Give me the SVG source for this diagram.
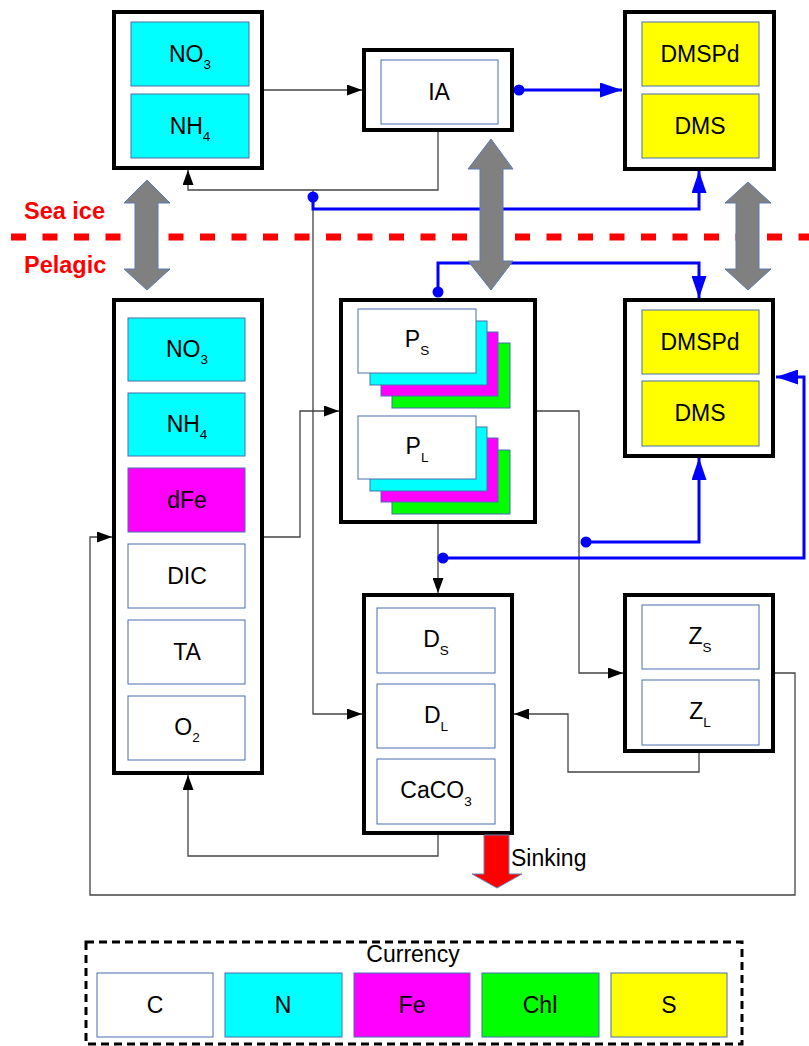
<svg xmlns="http://www.w3.org/2000/svg" width="809" height="1046" viewBox="0 0 809 1046">
<style>
.outer{fill:#fff;stroke:#000;stroke-width:4}
.inner{stroke:#4a6fb0;stroke-width:1}
.w{fill:#fff}.cy{fill:#00ffff}.mg{fill:#ff00ff}.gr{fill:#00ff00}.ye{fill:#ffff00}
text{font-family:"Liberation Sans",Arial,sans-serif;font-size:23px;fill:#000;text-anchor:middle}
.sub{font-size:13.5px}
.red{fill:#ff0000;font-weight:bold;text-anchor:start;font-size:23.5px}
.con{fill:none;stroke:#444;stroke-width:1.3}
.blue{fill:none;stroke:#0000ff;stroke-width:3}
.dot{fill:#0000ff}
.dbl{fill:#808080;stroke:#5a7ab5;stroke-width:1}
</style>
<defs>
<marker id="ah" markerUnits="userSpaceOnUse" markerWidth="15" markerHeight="11" refX="15" refY="5.5" orient="auto"><path d="M0,0 L15,5.5 L0,11 z" fill="#000"/></marker>
<marker id="bh" markerUnits="userSpaceOnUse" markerWidth="22" markerHeight="15" refX="22" refY="7.5" orient="auto"><path d="M0,0 L22,7.5 L0,15 z" fill="#0000ff"/></marker>
</defs>

<!-- red separator -->
<line x1="11" y1="237" x2="809" y2="237" stroke="#ff0000" stroke-width="7" stroke-dasharray="15 16.5"/>
<text class="red" x="24" y="219">Sea ice</text>
<text class="red" x="24" y="273">Pelagic</text>

<g id="connectors">
<polyline class="con" points="264,90 362,90" marker-end="url(#ah)"/>
<polyline class="con" points="438,132 438,190 188,190 188,170" marker-end="url(#ah)"/>
<polyline class="con" points="313,190 313,714 362,714" marker-end="url(#ah)"/>
<polyline class="con" points="264,537 300,537 300,411 339,411" marker-end="url(#ah)"/>
<polyline class="con" points="537,411 579,411 579,673 623,673" marker-end="url(#ah)"/>
<polyline class="con" points="438,524 438,593" marker-end="url(#ah)"/>
<polyline class="con" points="699,753 699,772 568,772 568,714 514,714" marker-end="url(#ah)"/>
<polyline class="con" points="775,673 795,673 795,895 90,895 90,537 112,537" marker-end="url(#ah)"/>
<polyline class="con" points="438,835 438,856 188,856 188,775" marker-end="url(#ah)"/>

<polyline class="blue" points="313,197 313,209 699,209 699,171" marker-end="url(#bh)"/>
<polyline class="blue" points="519,90 622,90" marker-end="url(#bh)"/>
<polyline class="blue" points="438,292 438,263 699,263 699,298" marker-end="url(#bh)"/>
<polyline class="blue" points="443,558 804,558 804,377 776,377" marker-end="url(#bh)"/>
<polyline class="blue" points="586,542 699,542 699,458" marker-end="url(#bh)"/>
<circle class="dot" cx="313" cy="197" r="5.5"/>
<circle class="dot" cx="519" cy="90" r="5.5"/>
<circle class="dot" cx="438" cy="292" r="5.5"/>
<circle class="dot" cx="443" cy="558" r="5.5"/>
<circle class="dot" cx="586" cy="542" r="5.5"/>
</g>

<g id="exchange-arrows">
<polygon class="dbl" points="147,180 170,203 158,203 158,269 170,269 147,290 124,269 135,269 135,203 124,203"/>
<polygon class="dbl" points="491,139 513,169 503,169 503,261 513,261 491,290 468,261 480,261 480,169 468,169"/>
<polygon class="dbl" points="748,182 771,203 759,203 759,269 771,269 748,290 725,269 736,269 736,203 725,203"/>
</g>

<g id="ice-nutrients">
<rect class="outer" x="114" y="12" width="148" height="156"/>
<rect class="inner cy" x="131" y="22" width="118" height="64"/>
<rect class="inner cy" x="131" y="94" width="118" height="64"/>
<text x="190" y="62">NO<tspan class="sub" dy="7">3</tspan></text>
<text x="190" y="134">NH<tspan class="sub" dy="7">4</tspan></text>
</g>

<g id="ice-algae">
<rect class="outer" x="364" y="50" width="148" height="80"/>
<rect class="inner w" x="381" y="60" width="117" height="64"/>
<text x="439" y="100">IA</text>
</g>

<g id="ice-dms">
<rect class="outer" x="625" y="12" width="149" height="157"/>
<rect class="inner ye" x="642" y="22" width="117" height="64"/>
<rect class="inner ye" x="642" y="94" width="117" height="64"/>
<text x="700" y="62">DMSPd</text>
<text x="700" y="134">DMS</text>
</g>

<g id="pelagic-nutrients">
<rect class="outer" x="114" y="300" width="148" height="473"/>
<rect class="inner cy" x="128" y="318" width="117" height="63"/>
<rect class="inner cy" x="128" y="393" width="117" height="63"/>
<rect class="inner mg" x="128" y="468" width="117" height="64"/>
<rect class="inner w" x="128" y="544" width="117" height="64"/>
<rect class="inner w" x="128" y="620" width="117" height="64"/>
<rect class="inner w" x="128" y="696" width="117" height="64"/>
<text x="187" y="357">NO<tspan class="sub" dy="7">3</tspan></text>
<text x="187" y="432">NH<tspan class="sub" dy="7">4</tspan></text>
<text x="187" y="508">dFe</text>
<text x="187" y="584">DIC</text>
<text x="187" y="660">TA</text>
<text x="187" y="735">O<tspan class="sub" dy="7">2</tspan></text>
</g>

<g id="phytoplankton">
<rect class="outer" x="341" y="300" width="194" height="222"/>
<rect class="inner gr" x="392" y="343" width="118" height="65"/>
<rect class="inner mg" x="381" y="332" width="117" height="64"/>
<rect class="inner cy" x="370" y="321" width="117" height="64"/>
<rect class="inner w" x="358" y="309" width="118" height="64"/>
<text x="417" y="347">P<tspan class="sub" dy="8">S</tspan></text>
<rect class="inner gr" x="392" y="450" width="118" height="64"/>
<rect class="inner mg" x="381" y="438" width="117" height="64"/>
<rect class="inner cy" x="370" y="427" width="117" height="64"/>
<rect class="inner w" x="358" y="416" width="118" height="63"/>
<text x="417" y="454">P<tspan class="sub" dy="8">L</tspan></text>
</g>

<g id="pelagic-dms">
<rect class="outer" x="625" y="300" width="148" height="156"/>
<rect class="inner ye" x="642" y="310" width="117" height="64"/>
<rect class="inner ye" x="642" y="381" width="117" height="65"/>
<text x="700" y="350">DMSPd</text>
<text x="700" y="421">DMS</text>
</g>

<g id="detritus">
<rect class="outer" x="364" y="595" width="148" height="238"/>
<rect class="inner w" x="377" y="608" width="118" height="65"/>
<rect class="inner w" x="377" y="684" width="118" height="64"/>
<rect class="inner w" x="377" y="759" width="118" height="65"/>
<text x="436" y="647">D<tspan class="sub" dy="8">S</tspan></text>
<text x="436" y="723">D<tspan class="sub" dy="8">L</tspan></text>
<text x="436" y="798">CaCO<tspan class="sub" dy="8">3</tspan></text>
</g>

<g id="zooplankton">
<rect class="outer" x="625" y="595" width="148" height="156"/>
<rect class="inner w" x="642" y="605" width="117" height="64"/>
<rect class="inner w" x="642" y="680" width="117" height="65"/>
<text x="700" y="644">Z<tspan class="sub" dy="8">S</tspan></text>
<text x="700" y="719">Z<tspan class="sub" dy="8">L</tspan></text>
</g>

<g id="sinking">
<polygon points="484,835 509,835 509,874 522,874 497,888 472,874 484,874" fill="#ff0000" stroke="#6a86b8" stroke-width="1"/>
<text x="511" y="866" style="text-anchor:start">Sinking</text>
</g>

<g id="legend">
<rect x="86" y="942" width="656" height="102" fill="none" stroke="#000" stroke-width="3" stroke-dasharray="8 5"/>
<text x="413" y="962">Currency</text>
<rect class="inner w" x="97" y="973" width="116" height="64"/>
<rect class="inner cy" x="225" y="973" width="117" height="64"/>
<rect class="inner mg" x="354" y="973" width="116" height="64"/>
<rect class="inner gr" x="482" y="973" width="117" height="64"/>
<rect class="inner ye" x="611" y="973" width="116" height="64"/>
<text x="155" y="1013">C</text>
<text x="283" y="1013">N</text>
<text x="412" y="1013">Fe</text>
<text x="540" y="1013">Chl</text>
<text x="669" y="1013">S</text>
</g>
</svg>
